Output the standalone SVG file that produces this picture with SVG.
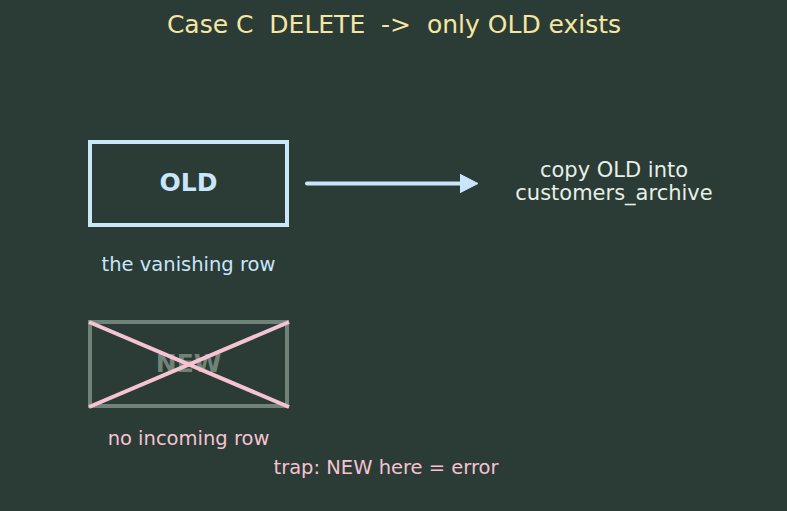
<svg xmlns="http://www.w3.org/2000/svg" width="787" height="511" viewBox="0 0 787 511">
<defs>
<style>
text{font-family:"DejaVu Sans","Liberation Sans",sans-serif;text-anchor:middle;white-space:pre}
.title{font-size:25px;fill:#f5e6a3}
.lbl{font-size:19.5px}
.arch{font-size:21px}
.node{font-size:25px;font-weight:bold}
</style>
<marker id="ah" markerWidth="20" markerHeight="20" refX="2" refY="10" orient="auto" markerUnits="userSpaceOnUse">
<path d="M0,0.8 L18,10 L0,19.2 Z" fill="#c9e6fb" stroke="#c9e6fb" stroke-width="1" stroke-linejoin="round"/>
</marker>
</defs>
<rect width="787" height="511" fill="#2b3b35"/>
<text class="title" x="394" y="33" xml:space="preserve">Case C  DELETE  -&gt;  only OLD exists</text>
<g id="old">
<rect x="90" y="142" width="197" height="83" fill="none" stroke="#c9e6fb" stroke-width="4"/>
<text class="node" x="188.5" y="191" fill="#c9e6fb">OLD</text>
<text class="lbl" x="188.5" y="271" fill="#c9e6fb">the vanishing row</text>
</g>
<g id="new">
<rect x="90" y="322" width="197" height="84" fill="none" stroke="#6f8378" stroke-width="4"/>
<text class="node" x="188.5" y="372" fill="#6f8378">NEW</text>
<line x1="89" y1="322" x2="289" y2="407" stroke="#f5c3d1" stroke-width="4"/>
<line x1="89" y1="407" x2="289" y2="322" stroke="#f5c3d1" stroke-width="4"/>
<text class="lbl" x="188.5" y="445" fill="#f5c3d1">no incoming row</text>
</g>
<g id="archive">
<text class="arch" x="614" y="177" fill="#e6efe8">copy OLD into</text>
<text class="arch" x="614" y="200" fill="#e6efe8">customers_archive</text>
</g>
<g id="trap">
<text class="lbl" x="386" y="474" fill="#f5c3d1">trap: NEW here = error</text>
</g>
<g id="connectors">
<line x1="307" y1="183.5" x2="462" y2="183.5" stroke="#c9e6fb" stroke-width="4" stroke-linecap="round" marker-end="url(#ah)"/>
</g>
</svg>
